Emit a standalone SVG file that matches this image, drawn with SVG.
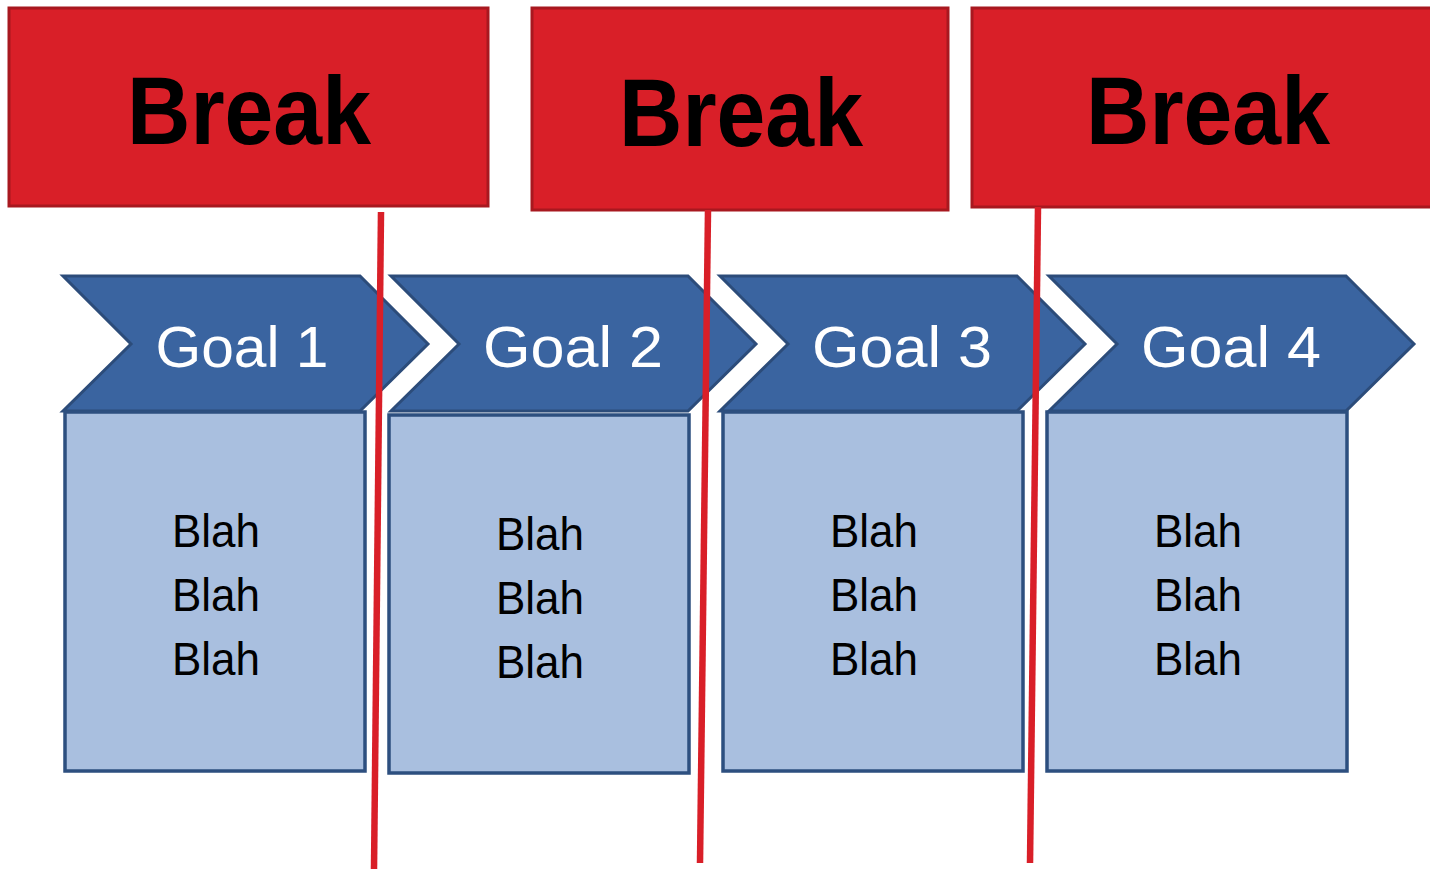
<svg xmlns="http://www.w3.org/2000/svg" width="1430" height="869" viewBox="0 0 1430 869">
<style>
.brk{fill:#D91F28;stroke:#A8181F;stroke-width:3}
.brkt{font-family:"Liberation Sans",Arial,sans-serif;font-weight:bold;font-size:96px;fill:#000;text-anchor:middle}
.chev{fill:#3A64A0;stroke:#2C4C7A;stroke-width:3;stroke-linejoin:miter}
.goalt{font-family:"Liberation Sans",Arial,sans-serif;font-size:58px;fill:#fff;text-anchor:middle}
.box{fill:#A9BFDF;stroke:#2D4F7F;stroke-width:3.5}
.blah{font-family:"Liberation Sans",Arial,sans-serif;font-size:46px;fill:#000;text-anchor:middle}
.rl{stroke:#D91F28;stroke-width:6.5;fill:none}
</style>
<rect width="1430" height="869" fill="#fff"/>
<g id="break1"><rect class="brk" x="9" y="8" width="479" height="198"/><text class="brkt" x="249" y="144" textLength="244" lengthAdjust="spacingAndGlyphs">Break</text></g>
<g id="break2"><rect class="brk" x="532" y="8" width="416" height="202"/><text class="brkt" x="741" y="146" textLength="244" lengthAdjust="spacingAndGlyphs">Break</text></g>
<g id="break3"><rect class="brk" x="972" y="8" width="470" height="199"/><text class="brkt" x="1208" y="144" textLength="244" lengthAdjust="spacingAndGlyphs">Break</text></g>
<g id="goal1"><path class="chev" d="M63 276 H360 L428 344 L360 411 H63 L131 344 Z"/><text class="goalt" x="242" y="367" textLength="173" lengthAdjust="spacingAndGlyphs">Goal 1</text></g>
<g id="goal2"><path class="chev" d="M391 276 H688 L756 344 L688 411 H391 L459 344 Z"/><text class="goalt" x="573" y="367" textLength="180" lengthAdjust="spacingAndGlyphs">Goal 2</text></g>
<g id="goal3"><path class="chev" d="M720 276 H1017 L1085 344 L1017 411 H720 L788 344 Z"/><text class="goalt" x="902" y="367" textLength="180" lengthAdjust="spacingAndGlyphs">Goal 3</text></g>
<g id="goal4"><path class="chev" d="M1049 276 H1346 L1414 344 L1346 411 H1049 L1117 344 Z"/><text class="goalt" x="1231" y="367" textLength="180" lengthAdjust="spacingAndGlyphs">Goal 4</text></g>
<g id="box1"><rect class="box" x="65" y="412" width="300" height="359"/><text class="blah" x="216" y="547" textLength="88" lengthAdjust="spacingAndGlyphs">Blah</text><text class="blah" x="216" y="611" textLength="88" lengthAdjust="spacingAndGlyphs">Blah</text><text class="blah" x="216" y="675" textLength="88" lengthAdjust="spacingAndGlyphs">Blah</text></g>
<g id="box2"><rect class="box" x="389" y="415" width="300" height="358"/><text class="blah" x="540" y="550" textLength="88" lengthAdjust="spacingAndGlyphs">Blah</text><text class="blah" x="540" y="614" textLength="88" lengthAdjust="spacingAndGlyphs">Blah</text><text class="blah" x="540" y="678" textLength="88" lengthAdjust="spacingAndGlyphs">Blah</text></g>
<g id="box3"><rect class="box" x="723" y="412" width="300" height="359"/><text class="blah" x="874" y="547" textLength="88" lengthAdjust="spacingAndGlyphs">Blah</text><text class="blah" x="874" y="611" textLength="88" lengthAdjust="spacingAndGlyphs">Blah</text><text class="blah" x="874" y="675" textLength="88" lengthAdjust="spacingAndGlyphs">Blah</text></g>
<g id="box4"><rect class="box" x="1047" y="412" width="300" height="359"/><text class="blah" x="1198" y="547" textLength="88" lengthAdjust="spacingAndGlyphs">Blah</text><text class="blah" x="1198" y="611" textLength="88" lengthAdjust="spacingAndGlyphs">Blah</text><text class="blah" x="1198" y="675" textLength="88" lengthAdjust="spacingAndGlyphs">Blah</text></g>
<g id="connectors">
<line class="rl" x1="381" y1="212" x2="374" y2="869"/>
<line class="rl" x1="708" y1="210" x2="700" y2="863"/>
<line class="rl" x1="1038" y1="207" x2="1030" y2="863"/>
</g>
</svg>
